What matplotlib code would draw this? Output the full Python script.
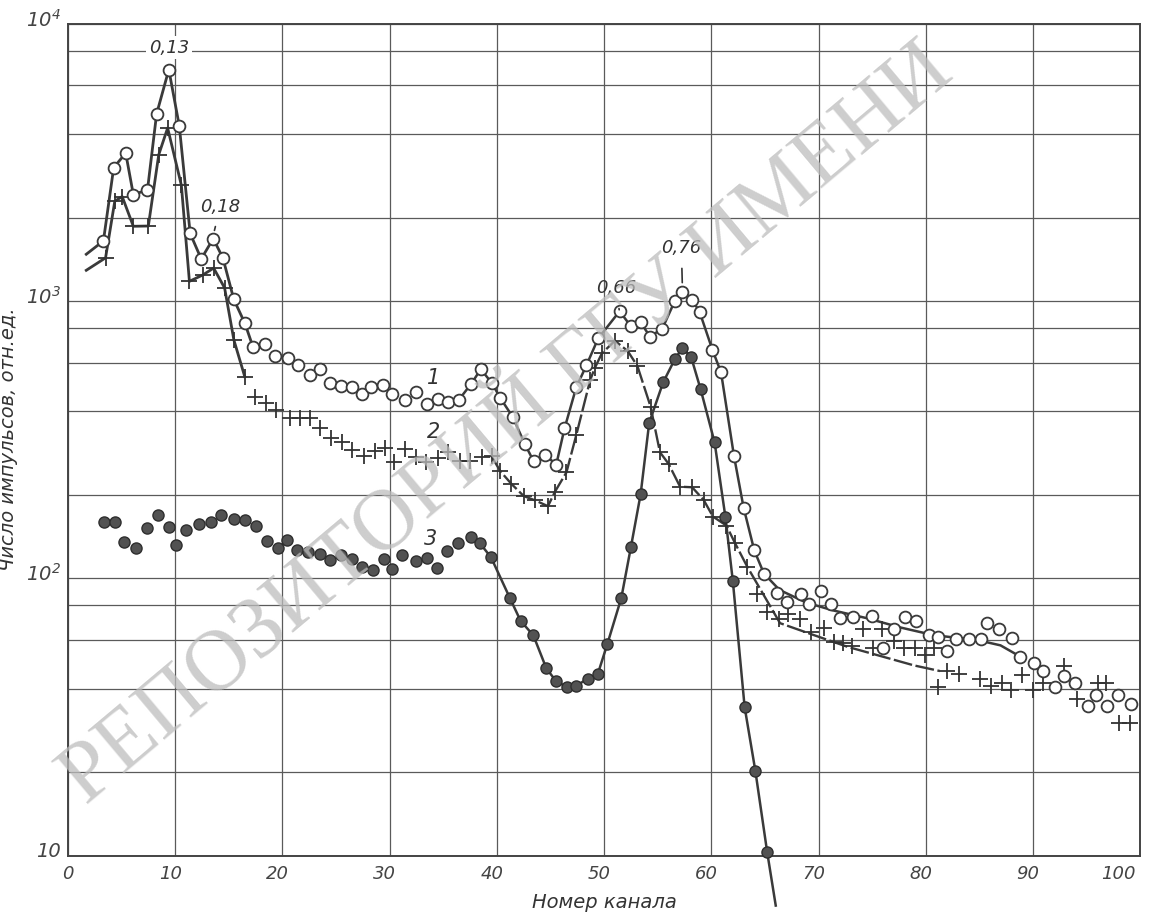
import numpy as np
import matplotlib.pyplot as plt
import matplotlib.transforms as mtransforms
from matplotlib.ticker import FixedLocator, NullFormatter

# --- curve 1: open circles ---
s1_ch = [3.3, 4.26, 5.38, 6.09, 7.41, 8.26, 9.40, 10.38, 11.39, 12.42, 13.54, 14.44, 15.46, 16.5,
         17.26, 18.41, 19.3, 20.54, 21.49, 22.6, 23.52, 24.39, 25.42, 26.5, 27.4, 28.3, 29.36, 30.24,
         31.43, 32.41, 33.44, 34.5, 35.48, 36.46, 37.6, 38.5, 39.54, 40.3, 41.47, 42.6, 43.43, 44.49,
         45.53, 46.3, 47.4, 48.35, 49.44, 51.44, 52.47, 53.39, 54.28, 55.42, 56.6, 57.3, 58.2, 58.9,
         60.1, 60.9, 62.1, 63.0, 64.0, 64.9, 66.1, 67.05, 68.4, 69.1, 70.2, 71.2, 72.0, 73.2, 75.0,
         76.0, 77.05, 78.04, 79.05, 80.25, 81.1, 82.0, 82.84, 84.0, 85.1, 85.7, 86.85, 88.0, 88.8,
         90.1, 90.95, 92.0, 92.86, 93.95, 95.15, 95.9, 96.85, 97.9, 99.1]
s1_val = [1648, 3030, 3417, 2421, 2517, 4730, 6838, 4274, 1754, 1419, 1679, 1432, 1014, 830,
          681, 698, 632, 622, 589, 541, 567, 506, 492, 490, 464, 489, 497, 464,
          439, 469, 426, 445, 432, 441, 503, 568, 505, 448, 382, 305, 264, 279,
          257, 347, 489, 587, 733, 919, 813, 837, 745, 795, 1003, 1082, 1012, 914,
          666, 553, 277, 180, 126, 104, 88.3, 82, 88.1, 80.5, 90.3, 80.5, 72.1, 72.3, 72.9,
          56.1, 65.9, 72.7, 69.9, 62.4, 61.6, 54.5, 60.5, 60.6, 60.4, 68.9, 65.8, 60.7, 52.2,
          49.5, 46.3, 40.7, 44.5, 42.0, 34.6, 37.9, 34.5, 37.9, 35.1]
s1_head_ch, s1_head_val = [1.7], [1475]
# smooth curve drawn through the scatter of the tail
s1_tail_ch = [66.35, 68.86, 71.35, 74.5, 77.6, 80.7, 82.9, 85.1, 86.96, 88.8]
s1_tail_val = [90.8, 81.7, 76.6, 71.8, 66.5, 62.4, 61.0, 59.5, 57.3, 52.2]

# --- curve 2: crosses ---
s2_ch = [3.5, 4.36, 5.05, 6.09, 7.49, 8.46, 9.29, 10.57, 11.32, 12.57, 13.58, 14.6, 15.47, 16.48,
         17.45, 18.46, 19.4, 20.66, 21.6, 22.52, 23.48, 24.5, 25.53, 26.48, 27.58, 28.59, 29.57,
         30.44, 31.43, 32.48, 33.42, 34.48, 35.48, 36.53, 37.5, 38.6, 39.5, 40.33, 41.35, 42.5,
         43.56, 44.76, 45.4, 46.48, 47.4, 48.69, 49.13, 49.79, 51.0, 52.2, 53.1, 54.33, 55.2, 56.0,
         57.08, 58.2, 59.27, 60.14, 61.4, 62.2, 63.35, 64.27, 65.2, 66.3, 67.17, 68.27, 69.3, 70.46,
         71.4, 72.25, 73.14, 74.13, 75.1, 75.9, 77.0, 78.0, 79.0, 79.9, 80.74, 81.1, 82.0, 83.07,
         85.07, 86.03, 87.1, 87.97, 88.97, 90.0, 90.9, 92.9, 94.05, 96.03, 96.8, 97.98, 99.06]
s2_val = [1432, 2291, 2382, 1861, 1865, 3373, 4210, 2617, 1178, 1242, 1315, 1116, 723, 534,
          452, 429, 406, 378, 378, 379, 347, 322, 310, 290, 277, 289, 295,
          263, 292, 273, 262, 272, 286, 264, 264, 273, 275, 243, 219, 198,
          191, 182, 205, 241, 329, 518, 574, 648, 719, 660, 583, 416, 285, 259,
          214, 213, 192, 167, 155, 134, 110, 88, 75.7, 71.3, 74.3, 71.4, 64.0, 66.2,
          58.8, 58.4, 57.1, 65.5, 56.0, 65.7, 59.5, 55.9, 56.0, 53.1, 55.9, 40.6, 46.4, 45.2,
          43.3, 41.0, 41.9, 39.5, 44.8, 39.6, 42.0, 48.4, 36.8, 41.8, 41.9, 30.1, 30.1]
s2_head_ch, s2_head_val = [1.7], [1291]
s2_tail_ch = [66.4, 69.5, 72.7, 75.8, 78.9, 81.3]
s2_tail_val = [68.9, 62.5, 56.6, 52.4, 48.5, 46.3]

# --- curve 3: filled circles ---
s3_ch = [3.33, 4.36, 5.23, 6.37, 7.35, 8.35, 9.39, 10.08, 10.99, 12.19, 13.3, 14.31, 15.44, 16.46,
         17.5, 18.55, 19.59, 20.42, 21.37, 22.39, 23.52, 24.46, 25.47, 26.51, 27.46, 28.48, 29.49,
         30.25, 31.15, 32.48, 33.49, 34.44, 35.34, 36.35, 37.55, 38.4, 39.45,
         41.2, 42.2, 43.4, 44.6, 45.5, 46.5, 47.4, 48.5, 49.4, 50.3, 51.6, 52.5, 53.4, 54.2,
         55.5, 56.6, 57.3, 58.1, 59.0, 60.3, 61.3, 62.0, 63.1, 64.1, 65.2]
s3_val = [159, 160, 135, 129, 152, 169, 153, 132, 149, 157, 160, 169, 164, 162,
          155, 136, 129, 137, 126, 124, 122, 116, 121, 117, 110, 107, 117,
          108, 121, 115, 118, 109, 125, 134, 141, 134, 119,
          85, 70.3, 62.2, 47.4, 42.6, 40.6, 41.0, 43.5, 45.1, 58, 85, 130, 201, 364,
          509, 618, 677, 630, 480, 309, 167, 97.7, 34.3, 20.2, 10.3]
s3_end_ch, s3_end_val = [66.0], [6.6]

peak_labels = ['0,13', '0,18', '0,66', '0,76']
peak_text_xy = [(9.4, 8200), (14.2, 2190), (51.1, 1110), (57.2, 1550)]
peak_point_xy = [None, (13.5, 1700), (51.4, 930), (57.3, 1100)]
curve_labels = ['1', '2', '3']
curve_label_xy = [(34.1, 527), (34.1, 336), (33.8, 139)]
xtick_labels = [str(v) for v in range(0, 101, 10)]

s1_ch, s1_val = np.array(s1_ch), np.array(s1_val)
s2_ch, s2_val = np.array(s2_ch), np.array(s2_val)
s3_ch, s3_val = np.array(s3_ch), np.array(s3_val)

plt.rcParams['font.family'] = 'DejaVu Sans'
plt.rcParams['font.style'] = 'italic'
ink = '#3a3a3a'

fig = plt.figure(figsize=(11.53, 9.16), dpi=100)
ax = fig.add_axes([0.059, 0.066, 0.930, 0.908])
ax.set_yscale('log')
ax.set_xlim(0, 100)
ax.set_ylim(10, 1e4)

# grid: every 10 channels, 2-4-6-8 in each decade
ax.yaxis.set_minor_locator(FixedLocator([m * 10 ** k for k in (1, 2, 3) for m in (2, 4, 6, 8)]))
ax.yaxis.set_minor_formatter(NullFormatter())
ax.grid(True, which='both', color='#5a5a5a', lw=0.9)
ax.tick_params(which='both', length=0, colors='#444444')
ax.tick_params(axis='x', pad=7)
ax.tick_params(axis='y', pad=5)
ax.set_xticks(np.arange(0, 101, 10))
ax.set_xticklabels(xtick_labels, fontsize=13)
ax.set_yticks([10, 100, 1000, 10000])
ax.set_yticklabels(['10', r'$\mathit{10^{2}}$', r'$\mathit{10^{3}}$', r'$\mathit{10^{4}}$'], fontsize=14)
xshift = mtransforms.ScaledTranslation(-5 / 100, 0, fig.dpi_scale_trans)
for lab in ax.get_xticklabels()[1:]:
    lab.set_transform(lab.get_transform() + xshift)
ax.get_xticklabels()[-1].set_horizontalalignment('right')
yshift = mtransforms.ScaledTranslation(0, 6 / 100, fig.dpi_scale_trans)
for lab in ax.get_yticklabels():
    lab.set_transform(lab.get_transform() + yshift)
for s in ax.spines.values():
    s.set_color('#444444')
    s.set_linewidth(1.4)

# --- curve 1 ---
m = s1_ch <= 17.3
ax.plot(np.r_[s1_head_ch, s1_ch[m]], np.r_[s1_head_val, s1_val[m]], color=ink, lw=2.0, zorder=3)
m = (s1_ch >= 35) & (s1_ch <= 65)
ax.plot(np.r_[s1_ch[m], s1_tail_ch], np.r_[s1_val[m], s1_tail_val], color=ink, lw=1.8, zorder=3)
ax.plot(s1_ch, s1_val, 'o', ms=8.5, mfc='white', mec=ink, mew=1.3, zorder=5)

# --- curve 2 ---
m = s2_ch <= 16.5
ax.plot(np.r_[s2_head_ch, s2_ch[m]], np.r_[s2_head_val, s2_val[m]], color=ink, lw=2.0, zorder=3)
m = (s2_ch >= 39.4) & (s2_ch <= 63.4)
ax.plot(np.r_[s2_ch[m], s2_tail_ch], np.r_[s2_val[m], s2_tail_val], color=ink, lw=1.7,
        dashes=(8, 1.5), zorder=3)
ax.plot(s2_ch, s2_val, '+', ms=11, mec='#333333', mew=1.3, zorder=4)

# --- curve 3 ---
m = s3_ch >= 38
ax.plot(np.r_[s3_ch[m], s3_end_ch], np.r_[s3_val[m], s3_end_val], color=ink, lw=1.8,
        zorder=3, clip_on=False)
ax.plot(s3_ch, s3_val, 'o', ms=8, mfc='#525252', mec='#2e2e2e', mew=1.0, zorder=5,
        clip_on=False)

# peak energies
for lab, txy, pxy in zip(peak_labels, peak_text_xy, peak_point_xy):
    if pxy is None:
        ax.text(*txy, lab, ha='center', va='center', fontsize=13, color='#333333', zorder=6,
                bbox=dict(boxstyle='square,pad=0.15', fc='white', ec='none'))
    else:
        ax.annotate(lab, xy=pxy, xytext=txy, ha='center', va='center', fontsize=13,
                    color='#333333', zorder=6,
                    arrowprops=dict(arrowstyle='-', color='#333333', lw=1.2, shrinkA=6, shrinkB=5))
for lab, xy in zip(curve_labels, curve_label_xy):
    ax.text(*xy, lab, ha='center', va='center', fontsize=15, color='#333333', zorder=6)

ax.set_xlabel('Номер канала', fontsize=14, color='#333333', labelpad=7)
ax.set_ylabel('Число импульсов, отн.ед.', fontsize=14, color='#333333', labelpad=6)

# scanned watermark
fig.text(0.44, 0.535, 'РЕПОЗИТОРИЙ ГГУ ИМЕНИ', rotation=40, ha='center', va='center',
         rotation_mode='anchor', fontsize=62, family='Liberation Serif', style='normal',
         color='#bdbdbd', alpha=0.75, zorder=10)

fig.savefig('out.png', dpi=100)
